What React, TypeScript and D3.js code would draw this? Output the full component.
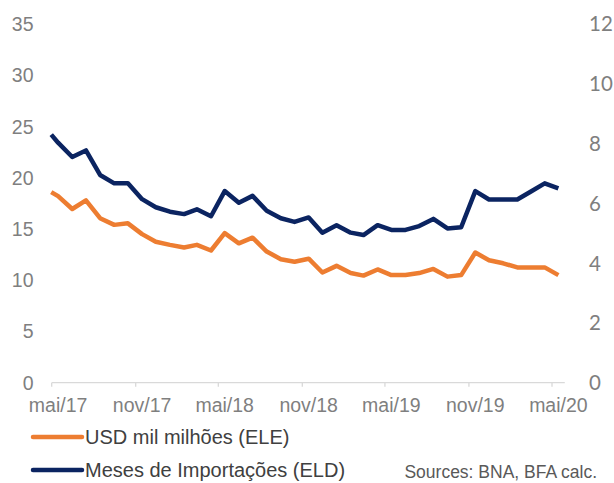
import React from "react";
import * as d3 from "d3";

const dates: string[] = [
  "2017-04-30",
  "2017-05-15","2017-06-15","2017-07-15","2017-08-15","2017-09-15","2017-10-15","2017-11-15","2017-12-15",
  "2018-01-15","2018-02-15","2018-03-15","2018-04-15","2018-05-15","2018-06-15","2018-07-15","2018-08-15","2018-09-15","2018-10-15","2018-11-15","2018-12-15",
  "2019-01-15","2019-02-15","2019-03-15","2019-04-15","2019-05-15","2019-06-15","2019-07-15","2019-08-15","2019-09-15","2019-10-15","2019-11-15","2019-12-15",
  "2020-01-15","2020-02-15","2020-03-15","2020-04-15","2020-05-15",
];

const usdBn: number[] = [
  18.6,
  18.2, 16.95, 17.8, 16.05, 15.4, 15.55, 14.5, 13.75,
  13.45, 13.2, 13.45, 12.9, 14.6, 13.6, 14.15, 12.8, 12.05, 11.8, 12.1, 10.75,
  11.4, 10.7, 10.45, 11.05, 10.5, 10.5, 10.7, 11.1, 10.35, 10.5, 12.7, 11.95,
  11.65, 11.25, 11.25, 11.25, 10.5,
];

const monthsImports: number[] = [
  8.3,
  8.03, 7.55, 7.77, 6.95, 6.67, 6.67, 6.14, 5.87,
  5.72, 5.64, 5.8, 5.57, 6.41, 6.02, 6.25, 5.75, 5.5, 5.38, 5.53, 5.02,
  5.27, 5.02, 4.94, 5.27, 5.11, 5.11, 5.24, 5.48, 5.16, 5.2, 6.41, 6.13,
  6.13, 6.13, 6.39, 6.67, 6.5,
];

const tickDates: string[] = ["2017-05-01","2017-11-01","2018-05-01","2018-11-01","2019-05-01","2019-11-01","2020-05-01"];
const labelDates: string[] = ["2017-05-15","2017-11-15","2018-05-15","2018-11-15","2019-05-15","2019-11-15","2020-05-15"];
const labelTexts: string[] = ["mai/17","nov/17","mai/18","nov/18","mai/19","nov/19","mai/20"];
const leftTicks: number[] = [0, 5, 10, 15, 20, 25, 30, 35];
const rightTicks: number[] = [0, 2, 4, 6, 8, 10, 12];
const seriesNames: string[] = ["USD mil milhões (ELE)", "Meses de Importações (ELD)"];
const sourceText = "Sources: BNA, BFA calc.";

const ORANGE = "#ED7D31";
const NAVY = "#0B2461";

export default function App() {
  const W = 614, H = 483;
  const parse = (s: string) => new Date(s + "T00:00:00Z");
  const x = d3.scaleUtc().domain([parse("2017-05-01"), parse("2020-05-01")]).range([51.7, 552]);
  const yL = d3.scaleLinear().domain([0, 35]).range([382.7, 24]);
  const yR = d3.scaleLinear().domain([0, 12]).range([382.7, 24]);
  const axisEnd = parse("2020-05-29");

  const lineL = d3.line<number>().x((_, i) => x(parse(dates[i]))).y((d) => yL(d));
  const lineR = d3.line<number>().x((_, i) => x(parse(dates[i]))).y((d) => yR(d));

  const axisY = yL(0);
  const sans = "'Liberation Sans', Arial, Helvetica, sans-serif";

  return (
    <svg width={W} height={H} style={{ position: "absolute", left: 0, top: 0, background: "#fff" }}>
      <line x1={x(parse(tickDates[0]))} x2={x(axisEnd)} y1={axisY} y2={axisY} stroke="#d9d9d9" strokeWidth={1.3} />
      {tickDates.map((t) => (
        <line key={t} x1={x(parse(t))} x2={x(parse(t))} y1={axisY} y2={axisY + 4} stroke="#d9d9d9" strokeWidth={1.3} />
      ))}
      {leftTicks.map((v) => (
        <text key={"l" + v} x={33.5} y={yL(v)} dy="0.36em" textAnchor="end" fontFamily={sans} fontSize={19.5} fill="#7f7f7f">
          {v}
        </text>
      ))}
      {rightTicks.map((v) => (
        <text key={"r" + v} x={589} y={yR(v)} dy="0.36em" textAnchor="start" fontFamily="Lato, 'Open Sans', sans-serif" fontSize={20.5} fill="#7f7f7f">
          {v}
        </text>
      ))}
      {labelDates.map((d, i) => (
        <text key={d} x={x(parse(d))} y={412} textAnchor="middle" fontFamily={sans} fontSize={19.5} fill="#7f7f7f">
          {labelTexts[i]}
        </text>
      ))}
      <path d={lineL(usdBn) || ""} fill="none" stroke={ORANGE} strokeWidth={4.5} strokeLinejoin="round" />
      <path d={lineR(monthsImports) || ""} fill="none" stroke={NAVY} strokeWidth={4.5} strokeLinejoin="round" />

      <line x1={33} x2={82} y1={437} y2={437} stroke={ORANGE} strokeWidth={4.5} strokeLinecap="round" />
      <text x={85} y={444} fontFamily={sans} fontSize={20} fill="#404040">{seriesNames[0]}</text>
      <line x1={33} x2={82} y1={470} y2={470} stroke={NAVY} strokeWidth={4.5} strokeLinecap="round" />
      <text x={85} y={477} fontFamily={sans} fontSize={20} fill="#404040">{seriesNames[1]}</text>
      <text x={597} y={478} textAnchor="end" fontFamily={sans} fontSize={17.5} fill="#595959">{sourceText}</text>
    </svg>
  );
}
